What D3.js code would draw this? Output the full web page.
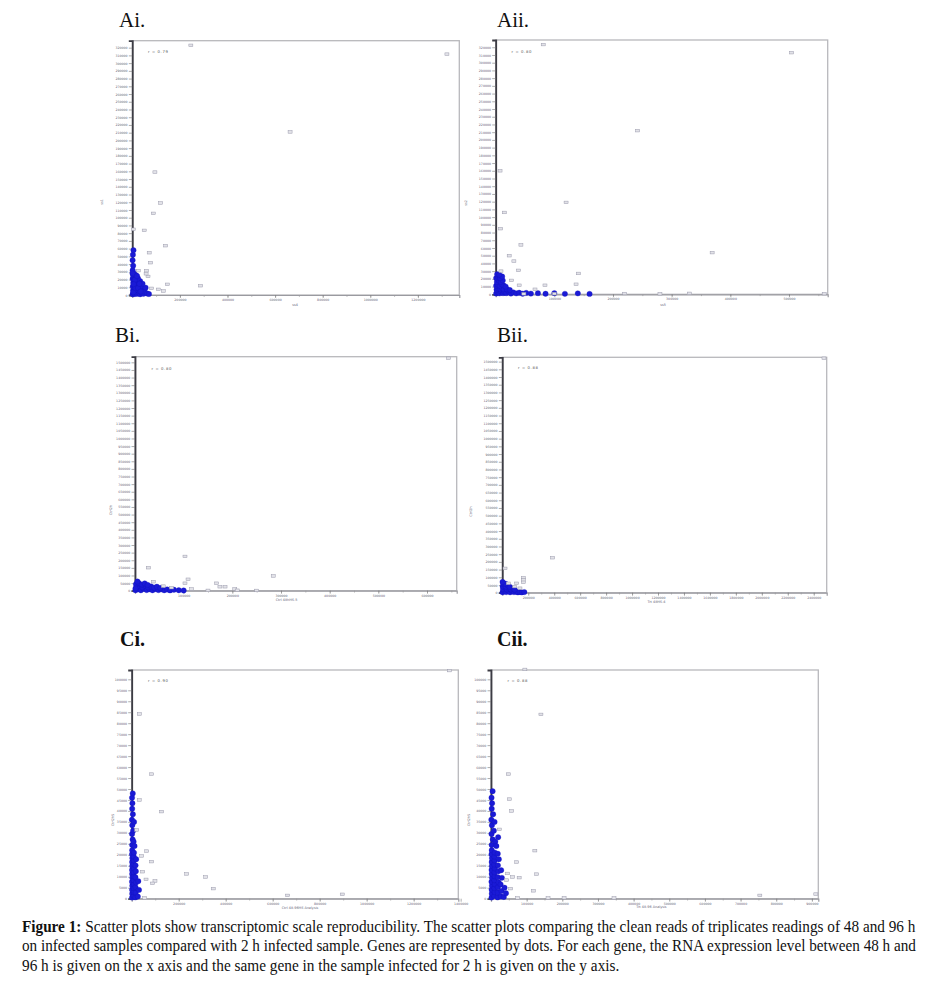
<!DOCTYPE html>
<html><head><meta charset="utf-8">
<script src="https://cdn.jsdelivr.net/npm/d3@7"></script>
<style>body{margin:0;background:#fff}svg{display:block}</style>
</head><body>
<script>
// ---------------- data ----------------
const panelTitles = ["Ai.", "Aii.", "Bi.", "Bii.", "Ci.", "Cii."];
const rValues = ["r = 0.79", "r = 0.80", "r = 0.80", "r = 0.88", "r = 0.90", "r = 0.88"];
const yAxisLabels = ["ss1", "ss2", "Ctrl2h", "Ctrl2h", "Ctrl2hS", "Ctrl2hS"];
const xAxisLabels = ["ss4", "ss5", "Ctrl 48hHS-5", "Trt 48HS-4", "Ctrl 48-96HS Analysis", "Trt 48-96 Analysis"];

const xTicksAi  = [200000, 400000, 600000, 800000, 1000000, 1200000];
const xTicksAii = [100000, 200000, 300000, 400000, 500000];
const xTicksBi  = [100000, 200000, 300000, 400000, 500000, 600000];
const xTicksBii = [200000, 400000, 600000, 800000, 1000000, 1200000, 1400000, 1600000, 1800000, 2000000, 2200000, 2400000];
const xTicksCi  = [200000, 400000, 600000, 800000, 1000000, 1200000, 1400000];
const xTicksCii = [100000, 200000, 300000, 400000, 500000, 600000, 700000, 800000, 900000];
// y tick settings: [max, step]
const yTicksA = [320000, 10000];
const yTicksB = [1500000, 50000];
const yTicksC = [100000, 5000];

const aiOutliers = [[246000,323000],[1322000,311600],[663000,211000],[95000,159000],[119000,119000],[88000,105600],
  [50000,83600],[140000,63800],[71000,54700],[77000,41800],[147000,13800],[287000,12000],[4000,85000],[60000,31500],
  [25000,31500],[81000,8600],[109000,7300],[130000,5200],[66000,24000],[58000,27500]];
const aiCluster = [[1500,1000],[6000,2500],[11000,1200],[16000,3000],[21000,1500],[27000,2800],[33000,1000],[40000,2500],[47000,1500],
  [3000,6000],[8000,7500],[14000,6500],[19000,8000],[25000,6000],[31000,7500],[38000,6800],[45000,8000],
  [2000,11000],[7000,12500],[12000,11000],[18000,13000],[23000,11500],[29000,12500],[36000,11000],
  [4000,16000],[9000,17500],[15000,16000],[21000,18000],[27000,16500],[33000,18000],
  [1500,21000],[6000,22500],[11000,21000],[17000,23000],[24000,21500],
  [3000,26000],[9000,27500],[15000,25500],[1500,32000],[3500,38000],[1200,45000],[2500,52000],[5000,58000],
  [1000,28000],[52000,4000],[56000,9500],[43000,14500],[62000,2000],[70000,1200],
  [4500,3500],[13000,9000],[24000,9000],[35000,4500],[10000,19500],[20000,24500],[6000,14000],[30000,14500]];

const aiiOutliers = [[81000,323500],[504500,313000],[242000,212000],[120000,119000],[369000,54000],[7400,160000],
  [14800,106000],[8500,85000],[43000,64000],[23000,50000],[31000,43000],[39000,31000],[141000,27000],[137000,13000],
  [84000,11700],[40000,11700],[67000,6500],[27000,18000],[9000,30000],[48000,600],[100000,800],[220000,1000],
  [330000,1200],[560000,800],[280000,600]];
const aiiCluster = [[800,1000],[3500,2500],[6500,1200],[9500,3000],[12500,1500],[15000,2800],
  [1500,6000],[4500,7500],[8000,6500],[11000,8000],[14000,6000],
  [800,11000],[3500,12500],[7000,11000],[10000,13000],[13500,11500],
  [2000,16000],[5500,17500],[9000,16000],[12000,18000],
  [800,21000],[4000,22500],[7500,21000],[11000,23000],[2500,26000],[6000,25500],
  [18000,1500],[22000,3500],[26000,1000],[30000,2500],[35000,1200],[40000,2000],[46000,800],[52000,1800],
  [60000,900],[72000,1500],[85000,700],[100000,1500],[118000,600],[140000,1200],[160000,500],
  [19000,6500],[24000,5500],[17000,10000]];

const biOutliers = [[644000,1527000],[102700,225000],[27400,151000],[284000,97000],[109000,75000],[102700,49000],
  [37600,59000],[167700,49000],[174500,26000],[185000,26000],[116000,11000],[205000,11000],[58000,30000],
  [75000,20000],[210000,3000],[150000,2000],[250000,1500]];
const biCluster = [[1000,3000],[6000,10000],[12000,3000],[18000,12000],[24000,4000],[30000,10000],[36000,3000],
  [42000,11000],[48000,4000],[54000,9000],[60000,3000],
  [3000,22000],[9000,30000],[15000,22000],[21000,32000],[27000,22000],[33000,28000],[39000,20000],[45000,26000],
  [2000,42000],[8000,50000],[14000,40000],[20000,48000],[26000,38000],[5000,60000],
  [66000,8000],[72000,2000],[80000,6000],[90000,3000],[100000,1500],[1000,15000],[52000,18000]];

const biiOutliers = [[2479000,1522000],[388000,227000],[21000,158000],[162000,97000],[162000,83000],[162000,67500],
  [111000,61000],[46000,61000],[136000,29000],[95000,40000]];
const biiCluster = [[2000,3000],[15000,12000],[30000,4000],[45000,14000],[60000,3000],[75000,10000],[90000,4000],
  [105000,8000],[120000,2000],[5000,24000],[20000,32000],[35000,22000],[50000,30000],[65000,22000],[80000,28000],
  [95000,20000],[3000,42000],[12000,50000],[28000,40000],[42000,48000],[58000,38000],[10000,60000],[25000,58000],
  [135000,5000],[150000,2000],[170000,4000],[2000,70000]];

const ciOutliers = [[1352000,104000],[32600,84200],[85000,56800],[127600,39700],[32000,45000],[63800,21700],
  [85000,16900],[42500,19500],[234000,11300],[315000,9900],[347000,4600],[99000,8100],[61000,8800],[89000,7000],
  [664000,1500],[896000,2000],[46800,12300],[21000,31300],[55000,300]];
const ciCluster = [[1500,500],[2200,2300],[1800,4100],[2600,5900],[1400,7700],[2900,9500],[2000,11300],[1600,13100],
  [2400,14900],[1900,16700],[2700,18500],[1500,20300],[2100,22100],
  [8000,1200],[9200,3000],[8600,4800],[9800,6600],[8300,8400],[9500,10200],[8800,12000],[9900,13800],[8400,15600],
  [9100,17400],[8700,19200],[9600,21000],
  [15500,600],[17000,2800],[16200,5200],[18500,7400],[15800,9800],[17600,12500],[16400,15200],[19000,18000],
  [26000,1000],[31000,4000],[28000,8000],
  [2000,24500],[4000,27000],[1500,29500],[6000,31000],[2500,33500],[1000,36000],[5000,38500],[2000,41000],
  [3000,43500],[1500,46000],[4500,48000],[8000,26000],[12000,24000],[10000,35000]];

const ciiOutliers = [[95000,104500],[140000,84000],[48600,56800],[51400,45400],[58000,40000],[23400,31600],
  [123000,21900],[72000,16700],[128000,11200],[46700,11500],[60700,9900],[79000,9600],[55000,4600],[119000,3600],
  [44000,8500],[754000,1500],[911000,2100],[75000,300],[160000,300],[205000,400],[345000,300]];
const ciiCluster = [[1500,500],[2200,2300],[1800,4100],[2600,5900],[1400,7700],[2900,9500],[2000,11300],[1600,13100],
  [2400,14900],[1900,16700],[2700,18500],[1500,20300],[2100,22100],
  [9000,1200],[10200,3000],[9600,4800],[10800,6600],[9300,8400],[10500,10200],[9800,12000],[10900,13800],
  [9400,15600],[10100,17400],[9700,19200],[10600,21000],
  [18500,600],[20000,2800],[19200,5200],[21500,7400],[18800,9800],[20600,12500],[19400,15200],[22000,18000],[19000,20500],
  [28000,1000],[29500,3500],[27000,6500],[30500,9500],[28500,13000],
  [36000,800],[42000,2500],[38000,5000],
  [2000,24500],[5000,27000],[1500,29500],[8000,31000],[2500,33500],[1000,36000],[6000,38500],[2000,41000],
  [3000,43500],[1500,46000],[4500,49000],[12000,26000],[15000,24000],[10000,35000],[20000,28000]];

const captionBold = "Figure 1:";
const captionLines = [
  " Scatter plots show transcriptomic scale reproducibility. The scatter plots comparing the clean reads of triplicates readings of 48 and 96 h",
  "on infected samples compared with 2 h infected sample. Genes are represented by dots. For each gene, the RNA expression level between 48 h and",
  "96 h is given on the x axis and the same gene in the sample infected for 2 h is given on the y axis."
];

// ---------------- layout ----------------
const W = 934, H = 989;
const svg = d3.select("body").append("svg").attr("width", W).attr("height", H);

const panels = [
  {title:panelTitles[0], tpos:[119,27], bold:false, box:[132.3,40.7,459.3,295], xDom:[0,1374000], yDom:[0,329000],
   xTicks:xTicksAi, minor:100000, yT:yTicksA, cl:aiCluster, out:aiOutliers, r:rValues[0], rpos:[148,53],
   yl:yAxisLabels[0], ylpos:[103,202], xl:xAxisLabels[0], xlpos:[295,305.5]},
  {title:panelTitles[1], tpos:[497,27], bold:false, box:[495.7,40,827.7,294.3], xDom:[0,566000], yDom:[0,329400],
   xTicks:xTicksAii, minor:50000, yT:yTicksA, cl:aiiCluster, out:aiiOutliers, r:rValues[1], rpos:[511.5,52.5],
   yl:yAxisLabels[1], ylpos:[467,203], xl:xAxisLabels[1], xlpos:[663,306]},
  {title:panelTitles[2], tpos:[115,342], bold:false, box:[135,356.7,456.7,590.7], xDom:[0,661000], yDom:[0,1537000],
   xTicks:xTicksBi, minor:50000, yT:yTicksB, cl:biCluster, out:biOutliers, r:rValues[2], rpos:[151.5,369.5],
   yl:yAxisLabels[2], ylpos:[111.5,510], xl:xAxisLabels[2], xlpos:[286.5,601]},
  {title:panelTitles[3], tpos:[497,342], bold:false, box:[502.3,357.3,826.7,592.7], xDom:[0,2500000], yDom:[0,1528000],
   xTicks:xTicksBii, minor:100000, yT:yTicksB, cl:biiCluster, out:biiOutliers, r:rValues[3], rpos:[518,369],
   yl:yAxisLabels[3], ylpos:[471.5,511.5], xl:xAxisLabels[3], xlpos:[656.5,602.5]},
  {title:panelTitles[4], tpos:[120,646], bold:true, box:[131.7,670,458.3,898.7], xDom:[0,1390000], yDom:[0,104250],
   xTicks:xTicksCi, minor:100000, yT:yTicksC, cl:ciCluster, out:ciOutliers, r:rValues[4], rpos:[148,681.5],
   yl:yAxisLabels[4], ylpos:[114,820], xl:xAxisLabels[4], xlpos:[300,909]},
  {title:panelTitles[5], tpos:[497,646], bold:true, box:[491,670,818.3,898.7], xDom:[0,918000], yDom:[0,104250],
   xTicks:xTicksCii, minor:50000, yT:yTicksC, cl:ciiCluster, out:ciiOutliers, r:rValues[5], rpos:[507.5,681.5],
   yl:yAxisLabels[5], ylpos:[470,820], xl:xAxisLabels[5], xlpos:[651.5,908]}
];

const fmt = d3.format("d");
const tickFont = "DejaVu Sans, sans-serif";

panels.forEach(p => {
  const [L, T, R, B] = p.box;
  const x = d3.scaleLinear().domain(p.xDom).range([L, R]);
  const y = d3.scaleLinear().domain(p.yDom).range([B, T]);
  const g = svg.append("g");

  // title
  g.append("text").attr("x", p.tpos[0]).attr("y", p.tpos[1])
    .attr("font-family", "Liberation Serif, Times New Roman, serif")
    .attr("font-size", p.bold ? 20 : 21).attr("font-weight", p.bold ? "bold" : "normal")
    .attr("fill", "#111").text(p.title);

  // frame
  g.append("rect").attr("x", L).attr("y", T).attr("width", R - L).attr("height", B - T)
    .attr("fill", "none").attr("stroke", "#b8b8bc").attr("stroke-width", 1.3);

  // y axis
  const yVals = d3.range(0, p.yT[0] + 1, p.yT[1]);
  const yAxis = d3.axisLeft(y).tickValues(yVals).tickFormat(fmt).tickSize(3.5).tickPadding(1.2);
  const ya = g.append("g").attr("transform", `translate(${L},0)`).call(yAxis);
  ya.select(".domain").attr("stroke", "#3c3c44").attr("stroke-width", 1.8);
  ya.selectAll(".tick line").attr("stroke", "#777").attr("stroke-width", 0.6);
  ya.selectAll(".tick text").attr("font-size", 3.2).attr("font-family", tickFont).attr("fill", "#667");

  // x axis minor ticks
  const minorVals = d3.range(p.minor, p.xDom[1], p.minor);
  const xMinor = d3.axisBottom(x).tickValues(minorVals).tickFormat("").tickSize(1.8);
  const xm = g.append("g").attr("transform", `translate(0,${B})`).call(xMinor);
  xm.select(".domain").remove();
  xm.selectAll(".tick line").attr("stroke", "#888").attr("stroke-width", 0.6);

  // x axis
  const xAxis = d3.axisBottom(x).tickValues(p.xTicks).tickFormat(fmt).tickSize(3).tickPadding(0.8);
  const xa = g.append("g").attr("transform", `translate(0,${B})`).call(xAxis);
  xa.select(".domain").attr("stroke", "#9a9aa0").attr("stroke-width", 1.2);
  xa.selectAll(".tick line").attr("stroke", "#777").attr("stroke-width", 0.6);
  xa.selectAll(".tick text").attr("font-size", 3.2).attr("font-family", tickFont).attr("fill", "#667");

  // axis titles
  g.append("text").attr("transform", `translate(${p.ylpos[0]},${p.ylpos[1]}) rotate(-90)`)
    .attr("text-anchor", "middle").attr("font-size", 3.4).attr("font-family", tickFont)
    .attr("fill", "#667").text(p.yl);
  g.append("text").attr("x", p.xlpos[0]).attr("y", p.xlpos[1])
    .attr("text-anchor", "middle").attr("font-size", 3.4).attr("font-family", tickFont)
    .attr("fill", "#667").text(p.xl);

  // r annotation
  g.append("text").attr("x", p.rpos[0]).attr("y", p.rpos[1]).attr("font-size", 3.8)
    .attr("font-family", tickFont).attr("fill", "#555").attr("letter-spacing", 0.6).text(p.r);

  // cluster points
  g.append("g").selectAll("circle").data(p.cl).join("circle")
    .attr("cx", d => x(d[0])).attr("cy", d => y(d[1])).attr("r", 2.7)
    .attr("fill", "#1a1ad6").attr("stroke", "#1010b8").attr("stroke-width", 0.3);

  // outlier points
  g.append("g").selectAll("rect").data(p.out).join("rect")
    .attr("x", d => x(d[0]) - 2).attr("y", d => y(d[1]) - 1.3).attr("width", 4).attr("height", 2.6)
    .attr("fill", "#e2e2e8").attr("stroke", "#9a9aac").attr("stroke-width", 0.5);
});

// caption
const capFont = "Liberation Serif, Times New Roman, serif";
const capX = 22, capRight = [916, 916, 620], capY = [932, 951.5, 971];
captionLines.forEach((line, i) => {
  const t = svg.append("text").attr("x", capX).attr("y", capY[i])
    .attr("font-family", capFont).attr("font-size", 16.5).attr("fill", "#111");
  if (i === 0) t.append("tspan").attr("font-weight", "bold").text(captionBold);
  t.append("tspan").text(line);
  const len = t.node().getComputedTextLength();
  const sx = (capRight[i] - capX) / len;
  t.attr("transform", `translate(${capX},0) scale(${sx},1) translate(${-capX},0)`);
});
</script>
</body></html>
